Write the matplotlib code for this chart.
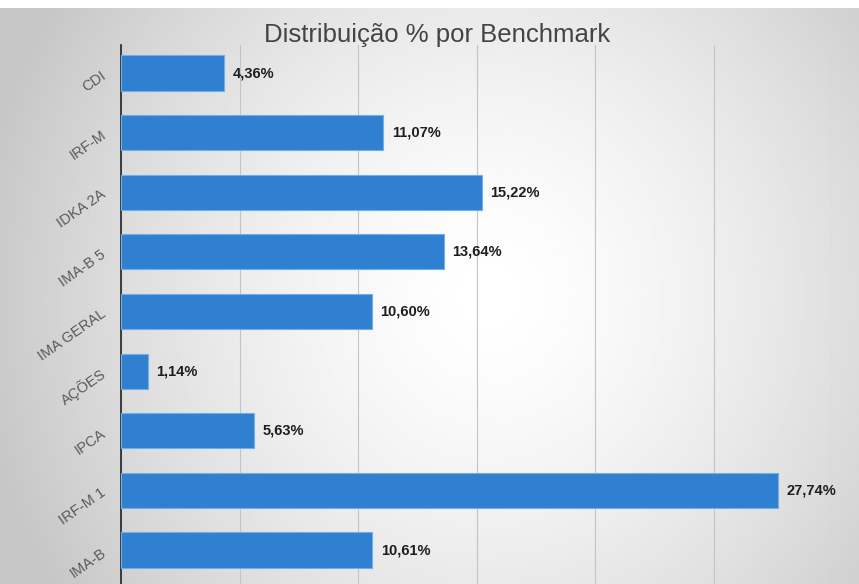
import numpy as np
import matplotlib.pyplot as plt
from matplotlib.transforms import ScaledTranslation

categories = ['CDI', 'IRF-M', 'IDKA 2A', 'IMA-B 5', 'IMA GERAL', 'AÇÕES', 'IPCA', 'IRF-M 1', 'IMA-B']
values = [4.36, 11.07, 15.22, 13.64, 10.60, 1.14, 5.63, 27.74, 10.61]
value_labels = ['4,36%', '11,07%', '15,22%', '13,64%', '10,60%', '1,14%', '5,63%', '27,74%', '10,61%']

plt.rcParams['font.family'] = ['Liberation Sans', 'DejaVu Sans']

W, H = 859, 584
fig = plt.figure(figsize=(W / 100, H / 100), dpi=100)

# background: grey edges fading to white in the middle
bg = fig.add_axes([0, 0, 1, 1 - 8 / H])
bg.set_axis_off()
yy, xx = np.mgrid[0:1:200j, 0:1:300j]
d = np.sqrt(((xx - 0.57) / 0.6) ** 2 + ((yy - 0.5) / 0.95) ** 2)
shade = 1 - 0.22 * np.clip(d, 0, 1) ** 1.5
bg.imshow(shade, cmap='gray', vmin=0, vmax=1, aspect='auto', extent=[0, 1, 0, 1])
bg.set_xlim(0, 1)
bg.set_ylim(0, 1)

ax = fig.add_axes([121 / W, 0, (832 - 121) / W, (H - 45) / H])
ax.patch.set_alpha(0)
y = np.arange(len(categories))
ax.barh(y, values, height=0.59, color='#2f80d0', edgecolor='#6fb0ea', linewidth=0.8, zorder=3)
for yi, v, lab in zip(y, values, value_labels):
    ax.text(v + 0.35, yi, lab, va='center', ha='left', fontsize=10.5, fontweight='bold', color='#1e1e1e', zorder=4)

ax.set_xlim(0, 30)
ax.set_ylim(len(categories) - 1 + 0.57, -0.47)
ax.set_xticks(np.arange(0, 31, 5))
ax.tick_params(axis='x', length=0, labelbottom=False)
ax.grid(axis='x', color='#c4c4c4', linewidth=0.8, zorder=0)
ax.set_yticks(y)
ax.set_yticklabels(categories, rotation=35, ha='right', va='center', rotation_mode='anchor', fontsize=10.5, color='#5a5a5a')
ax.tick_params(axis='y', length=0, pad=12)
shift = ScaledTranslation(0, -1 / 100, fig.dpi_scale_trans)
for t in ax.get_yticklabels():
    t.set_transform(t.get_transform() + shift)
for s in ['top', 'right', 'bottom']:
    ax.spines[s].set_visible(False)
ax.spines['left'].set_color('#222222')
ax.spines['left'].set_linewidth(1.2)

fig.text(437 / W, 1 - 35 / H, 'Distribuição % por Benchmark', ha='center', va='center', fontsize=18.5, color='#444444')

fig.savefig('out.png', dpi=100)
